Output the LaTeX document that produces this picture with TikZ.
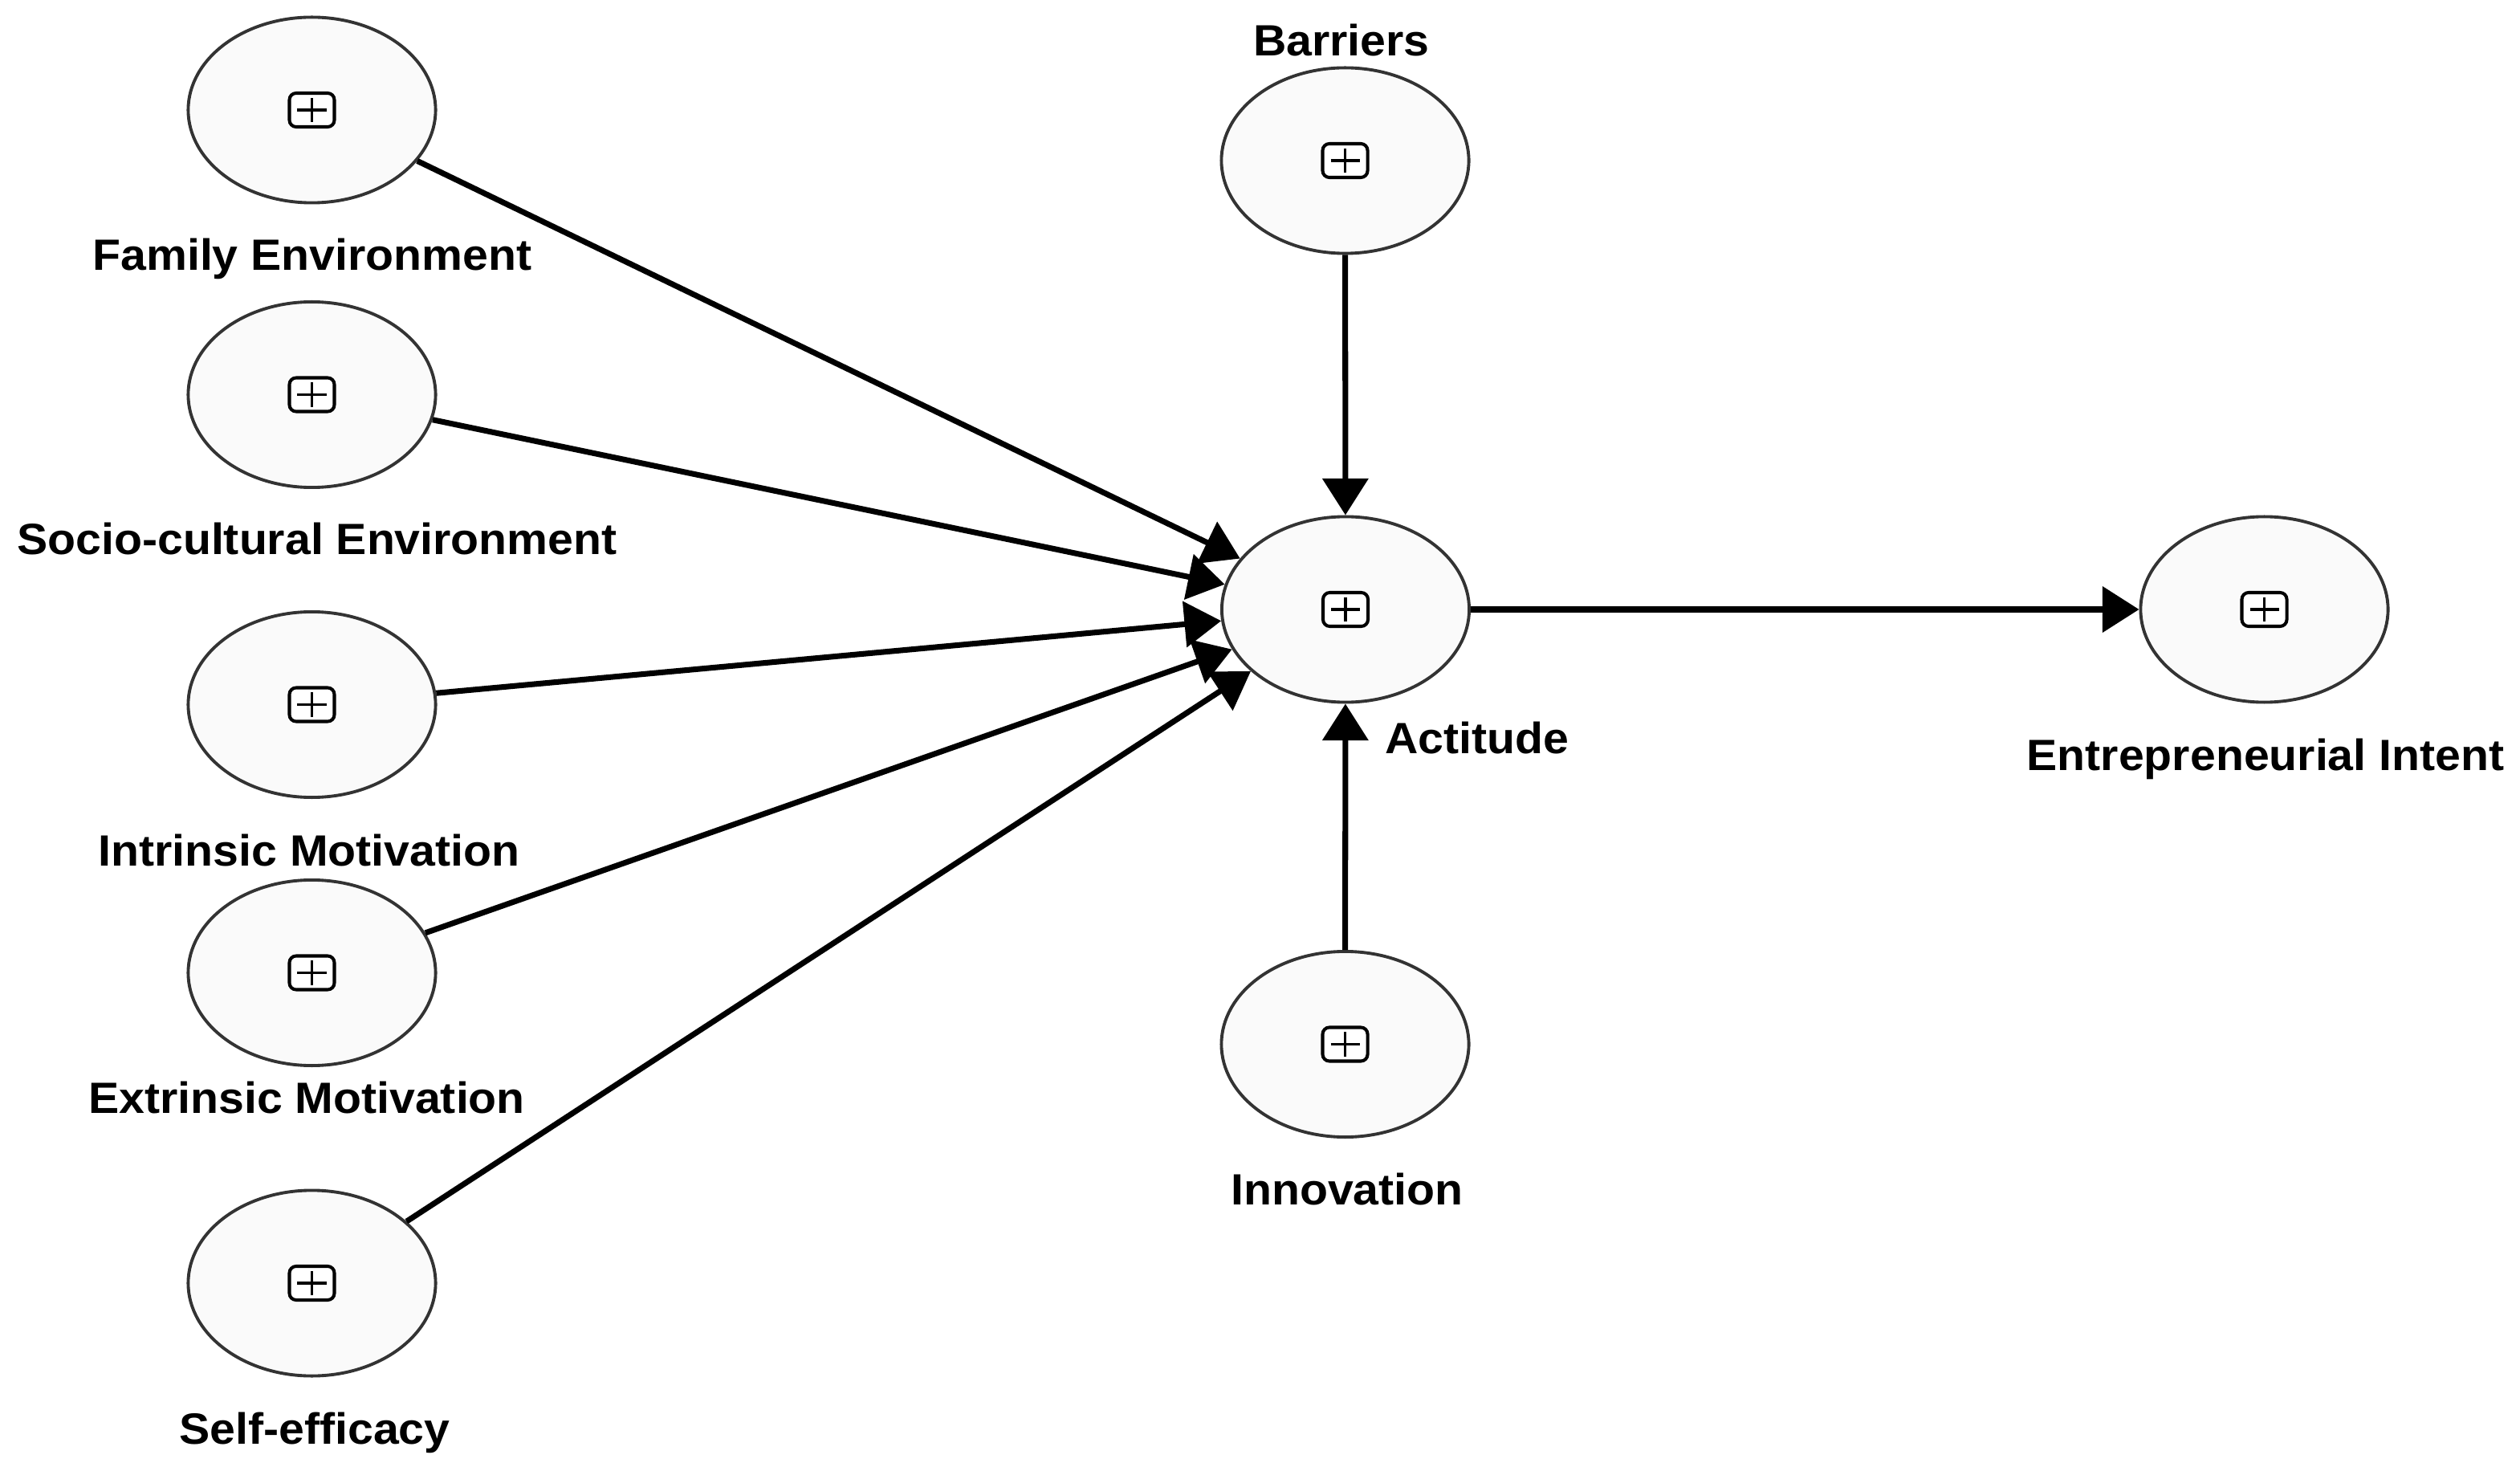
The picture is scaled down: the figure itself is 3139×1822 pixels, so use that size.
\documentclass[tikz,border=0pt]{standalone}
\usepackage{fontspec}
\setmainfont{Liberation Sans}
\usetikzlibrary{arrows.meta,shapes.geometric}
\definecolor{lvfill}{HTML}{FAFAFA}
\definecolor{lvline}{HTML}{333333}
\tikzset{
  x=0.01cm,y=-0.01cm,
  latent/.style={ellipse,draw=lvline,line width=1.1pt,fill=lvfill,minimum width=3.08cm,minimum height=2.31cm,inner sep=0pt,
    path picture={
      \draw[black,line width=1.15pt,rounded corners=2.4pt,fill=white] ([xshift=-0.28cm,yshift=-0.21cm]path picture bounding box.center) rectangle ([xshift=0.28cm,yshift=0.21cm]path picture bounding box.center);
      \draw[black,line width=0.9pt] ([xshift=-0.18cm]path picture bounding box.center) -- ([xshift=0.18cm]path picture bounding box.center);
      \draw[black,line width=0.9pt] ([yshift=-0.15cm]path picture bounding box.center) -- ([yshift=0.15cm]path picture bounding box.center);
    }},
  lvlabel/.style={font=\fontsize{15.5}{18}\selectfont\bfseries,text=black,inner sep=0pt,anchor=center,xscale=1.05,text height=11pt,text depth=0pt},
  link/.style={draw=black,line width=2pt,-{Triangle[length=13pt,width=16pt]}}
}
\begin{document}
\begin{tikzpicture}
\useasboundingbox[fill=white] (0,0) rectangle (3139,1822);
\node[latent] (fam) at (388.5,137) {};
\node[latent] (soc) at (388.5,491.5) {};
\node[latent] (int) at (388.5,877.5) {};
\node[latent] (ext) at (388.5,1211.5) {};
\node[latent] (sef) at (388.5,1598) {};
\node[latent] (bar) at (1675.5,200) {};
\node[latent] (act) at (1676,759) {};
\node[latent] (ent) at (2820.5,759) {};
\node[latent] (inn) at (1675.5,1300.5) {};
\node[lvlabel] (lfam) at (389,317) {Family Environment};
\node[lvlabel] (lsoc) at (395,671.5) {Socio-cultural Environment};
\node[lvlabel] (lint) at (385,1059) {Intrinsic Motivation};
\node[lvlabel] (lext) at (382,1367) {Extrinsic Motivation};
\node[lvlabel] (lsef) at (392,1779) {Self-efficacy};
\node[lvlabel] (lbar) at (1671,50) {Barriers};
\node[lvlabel] (lact) at (1840,919.5) {Actitude};
\node[lvlabel] (linn) at (1678,1481) {Innovation};
\node[lvlabel] (lent) at (2822,940) {Entrepreneurial Intent};
\draw[link] (fam) -- (act);
\draw[link] (soc) -- (act);
\draw[link] (int) -- (act);
\draw[link] (ext) -- (act);
\draw[link] (sef) -- (act);
\draw[link] (bar) -- (act);
\draw[link] (inn) -- (act);
\draw[link] (act) -- (ent);
\end{tikzpicture}
\end{document}
